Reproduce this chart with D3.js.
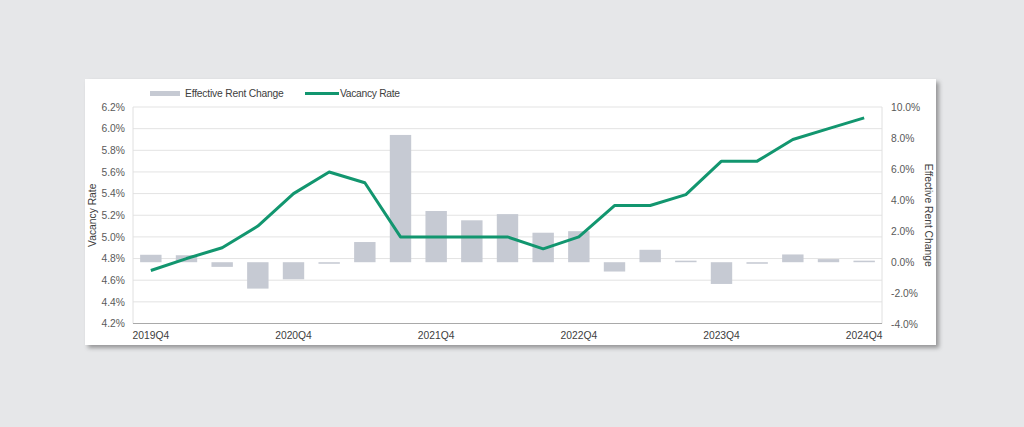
<!DOCTYPE html>
<html><head><meta charset="utf-8">
<script src="https://cdn.jsdelivr.net/npm/d3@7"></script>
<style>
html,body{margin:0;padding:0;background:#e6e7e9;}
svg{display:block;font-family:"Liberation Sans",Arial,sans-serif;}
</style></head><body>
<svg id="c" width="1024" height="427"></svg>
<script>
const quarters = ["2019Q4","2020Q1","2020Q2","2020Q3","2020Q4","2021Q1","2021Q2","2021Q3","2021Q4","2022Q1","2022Q2","2022Q3","2022Q4","2023Q1","2023Q2","2023Q3","2023Q4","2024Q1","2024Q2","2024Q3","2024Q4"];
const vacancyRate = [4.69,4.80,4.90,5.10,5.40,5.60,5.50,5.00,5.00,5.00,5.00,4.89,5.00,5.29,5.29,5.39,5.70,5.70,5.90,6.00,6.10];
const rentChange = [0.48,0.45,-0.3,-1.7,-1.1,-0.1,1.3,8.2,3.3,2.7,3.1,1.9,2.0,-0.6,0.8,0.1,-1.4,-0.1,0.5,0.2,0.1];
const xTickLabels = ["2019Q4","2020Q4","2021Q4","2022Q4","2023Q4","2024Q4"];
const leftTicks = [4.2,4.4,4.6,4.8,5.0,5.2,5.4,5.6,5.8,6.0,6.2];
const rightTicks = [-4,-2,0,2,4,6,8,10];

const FS = 10.3;
const svg = d3.select("#c");
const defs = svg.append("defs");
const f = defs.append("filter").attr("id","sh").attr("x","-5%").attr("y","-5%").attr("width","110%").attr("height","115%");
f.append("feDropShadow").attr("dx",3).attr("dy",3).attr("stdDeviation",2).attr("flood-color","#000").attr("flood-opacity",0.35);

// card
svg.append("rect").attr("x",85).attr("y",79).attr("width",851).attr("height",266).attr("fill","#fff").attr("filter","url(#sh)");

const L=133,R=882,T=107,B=323.5;
const x = d3.scaleBand().domain(quarters).range([L,R]).paddingInner(0.4).paddingOuter(0.2);
const yL = d3.scaleLinear().domain([4.2,6.2]).range([B,T]);
const yR = d3.scaleLinear().domain([-4,10]).range([B+0.8,T]);

// gridlines
svg.append("g").selectAll("line").data(leftTicks).join("line")
  .attr("x1",L).attr("x2",R).attr("y1",d=>yL(d)).attr("y2",d=>yL(d))
  .attr("stroke","#e3e3e3").attr("stroke-width",1);
svg.append("line").attr("x1",L).attr("x2",L).attr("y1",T).attr("y2",B).attr("stroke","#e0e0e0");
svg.append("line").attr("x1",R).attr("x2",R).attr("y1",T).attr("y2",B).attr("stroke","#e0e0e0");

// bars
svg.append("g").selectAll("rect").data(rentChange).join("rect")
  .attr("x",(d,i)=>x(quarters[i]))
  .attr("width",x.bandwidth())
  .attr("y",d=>Math.min(yR(d),yR(0)))
  .attr("height",d=>Math.max(1,Math.abs(yR(d)-yR(0))))
  .attr("fill","#c6cad3");

svg.append("line").attr("x1",L).attr("x2",R).attr("y1",B).attr("y2",B).attr("stroke","#a9a9a9").attr("stroke-width",1.2);

// line
const line = d3.line().x((d,i)=>x(quarters[i])+x.bandwidth()/2).y(d=>yL(d));
svg.append("path").datum(vacancyRate).attr("d",line).attr("fill","none")
  .attr("stroke","#12966f").attr("stroke-width",3).attr("stroke-linejoin","round");

function styleText(g, col){
  g.selectAll("text").attr("fill",col).attr("font-size",FS).attr("font-family","Liberation Sans, Arial, sans-serif");
}
const axL = d3.axisLeft(yL).tickValues(leftTicks).tickFormat(d=>d.toFixed(1)+"%").tickSize(0).tickPadding(8);
const gL = svg.append("g").attr("transform",`translate(${L},0)`).call(axL);
gL.select(".domain").remove(); styleText(gL,"#595959");

const axR = d3.axisRight(yR).tickValues(rightTicks).tickFormat(d=>d.toFixed(1)+"%").tickSize(0).tickPadding(9);
const gR = svg.append("g").attr("transform",`translate(${R},0)`).call(axR);
gR.select(".domain").remove(); styleText(gR,"#595959");

const axX = d3.axisBottom(x).tickValues(xTickLabels).tickSize(0).tickPadding(8);
const gX = svg.append("g").attr("transform",`translate(0,${B})`).call(axX);
gX.select(".domain").remove(); styleText(gX,"#404040");

svg.append("text").attr("transform",`translate(96,${(T+B)/2}) rotate(-90)`).attr("text-anchor","middle")
  .attr("font-size",FS).attr("fill","#404040").text("Vacancy Rate");
svg.append("text").attr("transform",`translate(925,${(T+B)/2}) rotate(90)`).attr("text-anchor","middle")
  .attr("font-size",FS).attr("fill","#404040").text("Effective Rent Change");

// legend
const lg = svg.append("g");
lg.append("rect").attr("x",150).attr("y",91).attr("width",30).attr("height",5).attr("fill","#c6cad3");
lg.append("text").attr("x",185).attr("y",97).attr("font-size",FS).attr("fill","#404040").attr("letter-spacing",-0.2).text("Effective Rent Change");
lg.append("line").attr("x1",305).attr("x2",339).attr("y1",93.5).attr("y2",93.5).attr("stroke","#12966f").attr("stroke-width",3);
lg.append("text").attr("x",340).attr("y",97).attr("font-size",FS).attr("fill","#404040").attr("letter-spacing",-0.3).text("Vacancy Rate");
</script>
</body></html>
